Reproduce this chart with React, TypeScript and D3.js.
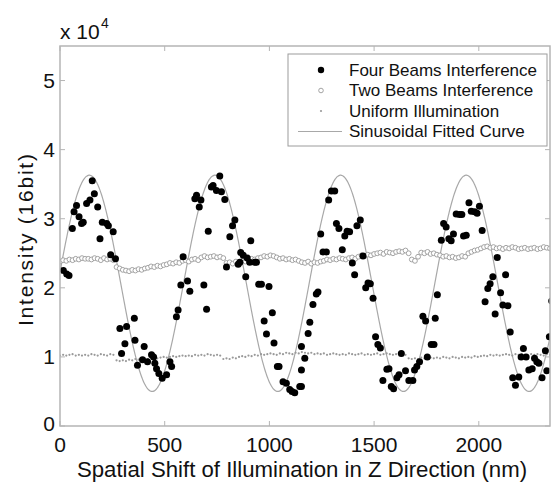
import React from "react";
import * as d3 from "d3";

const W = 554;
const H = 483;
const margin = { top: 46, right: 4, bottom: 57, left: 60 };

const xTicks = [0, 500, 1000, 1500, 2000];
const yTicks = [0, 1, 2, 3, 4, 5];
const legendLabels = [
  "Four Beams Interference",
  "Two Beams Interference",
  "Uniform Illumination",
  "Sinusoidal Fitted Curve",
];

// [nm, intensity x 1e4]
const fourBeams: [number, number][] = [
  [16, 2.25], [32, 2.2], [43, 2.18], [59, 2.86], [67, 3.1], [79, 3.19], [91, 3.03],
  [103, 2.93], [111, 2.95], [127, 3.22], [143, 3.27], [154, 3.55], [164, 3.36],
  [180, 3.17], [191, 2.71], [202, 2.95], [223, 2.93], [231, 2.9], [242, 2.48],
  [254, 2.81], [265, 2.42], [286, 1.41], [294, 1.05], [310, 1.19], [318, 1.44],
  [355, 1.56], [358, 1.24], [370, 0.88], [394, 0.96], [402, 1.15], [418, 0.93],
  [437, 1.03], [447, 1.0], [453, 0.91], [461, 0.83], [472, 0.76], [488, 0.69],
  [509, 0.74], [525, 0.93], [533, 0.86], [556, 1.58], [564, 1.68], [577, 2.04],
  [588, 2.45], [609, 2.1], [620, 1.95], [644, 3.29], [652, 3.34], [665, 3.17],
  [673, 3.27], [687, 2.04], [700, 1.69], [708, 2.82], [723, 3.46], [731, 3.48],
  [747, 3.41], [763, 3.62], [771, 3.39], [787, 3.28], [795, 2.3], [811, 2.74],
  [824, 2.9], [835, 2.98], [851, 2.34], [859, 2.37], [863, 2.51], [875, 2.47],
  [887, 2.16], [894, 2.43], [906, 2.37], [911, 2.68], [930, 2.37], [938, 2.37],
  [949, 2.05], [962, 2.05], [975, 1.52], [986, 1.33], [998, 2.02], [1014, 1.64],
  [1022, 1.2], [1038, 0.86], [1046, 0.86], [1065, 0.64], [1081, 0.62], [1097, 0.53],
  [1108, 0.5], [1121, 0.48], [1145, 0.57], [1153, 1.15], [1153, 0.81], [1153, 0.57],
  [1169, 0.98], [1185, 1.34], [1193, 1.5], [1208, 1.76], [1224, 1.91], [1232, 1.94],
  [1245, 2.78], [1256, 2.52], [1272, 2.52], [1283, 3.27], [1296, 3.4], [1312, 3.4],
  [1320, 2.93], [1332, 2.86], [1348, 2.55], [1360, 2.75], [1371, 2.82], [1383, 2.81],
  [1396, 2.36], [1407, 2.19], [1418, 2.9], [1434, 2.98], [1447, 2.46], [1460, 2.0],
  [1471, 2.07], [1482, 2.06], [1495, 1.85], [1507, 1.29], [1518, 1.18], [1530, 1.13],
  [1542, 0.66], [1561, 0.82], [1571, 0.83], [1582, 0.57], [1593, 0.54], [1609, 0.7],
  [1619, 0.74], [1630, 1.05], [1650, 0.8], [1666, 0.66], [1685, 0.66], [1693, 0.81],
  [1704, 0.86], [1717, 0.93], [1733, 1.59], [1746, 1.52], [1754, 1.0], [1773, 1.18],
  [1786, 1.18], [1792, 1.56], [1802, 1.9], [1821, 2.69], [1832, 2.93], [1844, 2.88],
  [1857, 2.71], [1868, 2.68], [1879, 2.78], [1892, 3.07], [1908, 3.06], [1919, 3.06],
  [1927, 2.75], [1940, 2.76], [1953, 3.23], [1964, 3.11], [1980, 3.1], [1992, 3.08],
  [2003, 3.18], [2016, 2.83], [2030, 1.8], [2043, 1.99], [2054, 2.06], [2067, 2.16],
  [2078, 1.62], [2088, 2.44], [2104, 1.93], [2115, 1.75], [2128, 2.19], [2139, 1.74],
  [2150, 1.36], [2162, 0.7], [2175, 0.59], [2191, 0.71], [2202, 1.0], [2213, 1.12],
  [2226, 1.0], [2239, 0.81], [2255, 0.83], [2266, 0.98], [2277, 0.93], [2287, 0.91],
  [2302, 0.7], [2318, 1.09], [2325, 0.8], [2337, 1.29], [2348, 1.81],
];

// sampled every 15 nm from 0
const sampleStep = 15;
const twoBeams = [
  2.38, 2.4, 2.39, 2.41, 2.4, 2.42, 2.41, 2.43, 2.42, 2.42,
  2.41, 2.43, 2.42, 2.4, 2.43, 2.41, 2.42, 2.4, 2.3, 2.28,
  2.26, 2.25, 2.24, 2.26, 2.25, 2.27, 2.26, 2.28, 2.29, 2.31,
  2.3, 2.32, 2.31, 2.33, 2.34, 2.36, 2.35, 2.37, 2.36, 2.39,
  2.4, 2.38, 2.41, 2.42, 2.4, 2.44, 2.46, 2.44, 2.45, 2.46,
  2.44, 2.45, 2.43, 2.36, 2.37, 2.35, 2.38, 2.37, 2.39, 2.38,
  2.4, 2.42, 2.41, 2.43, 2.44, 2.46, 2.45, 2.47, 2.46, 2.44,
  2.42, 2.43, 2.41, 2.42, 2.4, 2.41, 2.39, 2.37, 2.36, 2.38,
  2.35, 2.37, 2.36, 2.38, 2.39, 2.41, 2.4, 2.42, 2.41, 2.43,
  2.42, 2.41, 2.43, 2.44, 2.42, 2.45, 2.47, 2.46, 2.48, 2.47,
  2.49, 2.5, 2.51, 2.49, 2.52, 2.51, 2.5, 2.52, 2.53, 2.52,
  2.54, 2.5, 2.41, 2.39, 2.45, 2.51, 2.5, 2.52, 2.49, 2.5,
  2.48, 2.47, 2.45, 2.46, 2.44, 2.45, 2.43, 2.44, 2.46, 2.45,
  2.5, 2.52, 2.54, 2.55, 2.57, 2.59, 2.6, 2.58, 2.59, 2.57,
  2.58, 2.56, 2.58, 2.57, 2.59, 2.58, 2.56, 2.57, 2.58, 2.56,
  2.57, 2.58, 2.56, 2.57, 2.59, 2.58, 2.57,
];
const uniform = [
  1.02, 1.03, 1.02, 1.03, 1.04, 1.02, 1.03, 1.02, 1.03, 1.02,
  1.04, 1.03, 1.02, 1.04, 1.03, 1.02, 1.04, 1.03, 0.95, 0.94,
  0.95, 0.94, 0.96, 0.95, 0.97, 0.96, 0.97, 0.98, 0.97, 0.98,
  0.99, 0.98, 0.99, 1.0, 0.99, 1.0, 1.01, 1.0, 1.01, 1.02,
  1.01, 1.02, 1.01, 1.03, 1.02, 1.03, 1.02, 1.04, 1.03, 1.02,
  1.03, 1.02, 0.97, 0.98, 0.97, 0.99, 0.98, 1.0, 1.01, 1.0,
  1.02, 1.01, 1.03, 1.02, 1.04, 1.03, 1.04, 1.05, 1.04, 1.03,
  1.05, 1.04, 1.06, 1.05, 1.04, 1.06, 1.05, 1.07, 1.06, 1.05,
  1.06, 1.04, 1.05, 1.04, 1.05, 1.03, 1.04, 1.05, 1.04, 1.03,
  1.04, 1.03, 1.05, 1.04, 1.03, 1.04, 1.05, 1.03, 1.04, 1.03,
  1.04, 1.05, 1.03, 1.04, 1.05, 1.04, 1.03, 1.04, 1.05, 1.04,
  1.03, 0.98, 0.97, 0.98, 0.97, 0.99, 0.98, 0.97, 0.99, 0.98,
  0.99, 0.98, 1.0, 0.99, 0.98, 1.0, 0.99, 0.98, 1.0, 0.99,
  1.0, 0.99, 1.01, 1.0, 1.01, 1.02, 1.01, 1.03, 1.02, 1.03,
  1.02, 1.03, 1.04, 1.03, 1.02, 1.04, 1.03, 1.04, 1.03, 1.02,
  1.04, 1.03, 1.04, 1.03, 1.02, 1.04, 1.03,
];

// sinusoid fit parameters
const fitOffset = 2.065;
const fitAmplitude = 1.565;
const fitPeriod = 600;
const fitPeak = 140;

const FONT = "'Liberation Sans', Arial, sans-serif";
const AXIS = "#b5b5b5";
const TXT = "#111";

export default function App() {
  const x = d3.scaleLinear().domain([0, 2340]).range([margin.left, W - margin.right]);
  const y = d3.scaleLinear().domain([0, 5.5]).range([H - margin.bottom, margin.top]);
  const [x0, x1] = x.range();
  const [y0, y1] = y.range();

  const fitData = d3.range(0, 2341, 3).map((d) => [
    d,
    fitOffset + fitAmplitude * Math.cos((2 * Math.PI * (d - fitPeak)) / fitPeriod),
  ]);
  const line = d3
    .line<number[]>()
    .x((d) => x(d[0]))
    .y((d) => y(d[1]))
    .curve(d3.curveMonotoneX);

  const legX = 288;
  const legY = 54;
  const rowH = 20.5;

  return (
    <svg
      width={W}
      height={H}
      style={{ position: "absolute", left: 0, top: 0, background: "#fff" }}
      fontFamily={FONT}
    >
      <defs>
        <clipPath id="plot">
          <rect x={x0} y={y1} width={x1 - x0} height={y0 - y1} />
        </clipPath>
      </defs>
      <rect width={W} height={H} fill="#fff" />

      <g clipPath="url(#plot)">
        <path d={line(fitData) || ""} fill="none" stroke="#a8a8a8" strokeWidth={1.2} />
        {uniform.map((v, i) => (
          <circle key={"u" + i} cx={x(i * sampleStep)} cy={y(v)} r={1.1} fill="#9a9a9a" />
        ))}
        {twoBeams.map((v, i) => (
          <circle
            key={"t" + i}
            cx={x(i * sampleStep)}
            cy={y(v)}
            r={2.4}
            fill="#fff"
            stroke="#9a9a9a"
            strokeWidth={0.9}
          />
        ))}
        {fourBeams.map((d, i) => (
          <circle key={"f" + i} cx={x(d[0])} cy={y(d[1])} r={3.5} fill="#000" />
        ))}
      </g>

      {/* box */}
      <rect x={x0} y={y1} width={x1 - x0} height={y0 - y1} fill="none" stroke={AXIS} strokeWidth={1.5} />
      {xTicks.map((t) => (
        <g key={"xt" + t}>
          <line x1={x(t)} x2={x(t)} y1={y0} y2={y0 - 5} stroke={AXIS} />
          <line x1={x(t)} x2={x(t)} y1={y1} y2={y1 + 5} stroke={AXIS} />
          <text x={x(t)} y={y0 + 26} textAnchor="middle" fontSize={21} fill={TXT}>
            {t}
          </text>
        </g>
      ))}
      {yTicks.map((t) => (
        <g key={"yt" + t}>
          <line x1={x0} x2={x0 + 5} y1={y(t)} y2={y(t)} stroke={AXIS} />
          <line x1={x1} x2={x1 - 5} y1={y(t)} y2={y(t)} stroke={AXIS} />
          <text
            x={x0 - 5}
            y={t === 0 ? y(t) - 3 : y(t)}
            dy="0.36em"
            textAnchor="end"
            fontSize={21}
            fill={TXT}
          >
            {t}
          </text>
        </g>
      ))}

      {/* exponent */}
      <text x={60} y={39} fontSize={21} fill={TXT}>
        x 10
      </text>
      <text x={101} y={28} fontSize={14} fill={TXT}>
        4
      </text>

      {/* axis titles */}
      <text x={302} y={477} textAnchor="middle" fontSize={22.2} fill={TXT}>
        Spatial Shift of Illumination in Z Direction (nm)
      </text>
      <text
        transform="translate(33,240) rotate(-90)"
        textAnchor="middle"
        fontSize={21}
        fill={TXT}
        textLength={172}
        lengthAdjust="spacing"
      >
        Intensity (16bit)
      </text>

      {/* legend */}
      <rect x={legX} y={legY} width={259} height={92} fill="#fff" stroke="#9c9c9c" strokeWidth={1} />
      {legendLabels.map((label, i) => {
        const cy = legY + 16 + i * rowH;
        return (
          <g key={label}>
            {i === 0 && <circle cx={321} cy={cy} r={3.2} fill="#000" />}
            {i === 1 && <circle cx={321} cy={cy} r={2.3} fill="#fff" stroke="#9a9a9a" strokeWidth={0.9} />}
            {i === 2 && <circle cx={321} cy={cy} r={1.1} fill="#9a9a9a" />}
            {i === 3 && <line x1={298} x2={342} y1={cy} y2={cy} stroke="#a8a8a8" strokeWidth={1.2} />}
            <text x={349} y={cy} dy="0.35em" fontSize={17} fill={TXT}>
              {label}
            </text>
          </g>
        );
      })}
    </svg>
  );
}
